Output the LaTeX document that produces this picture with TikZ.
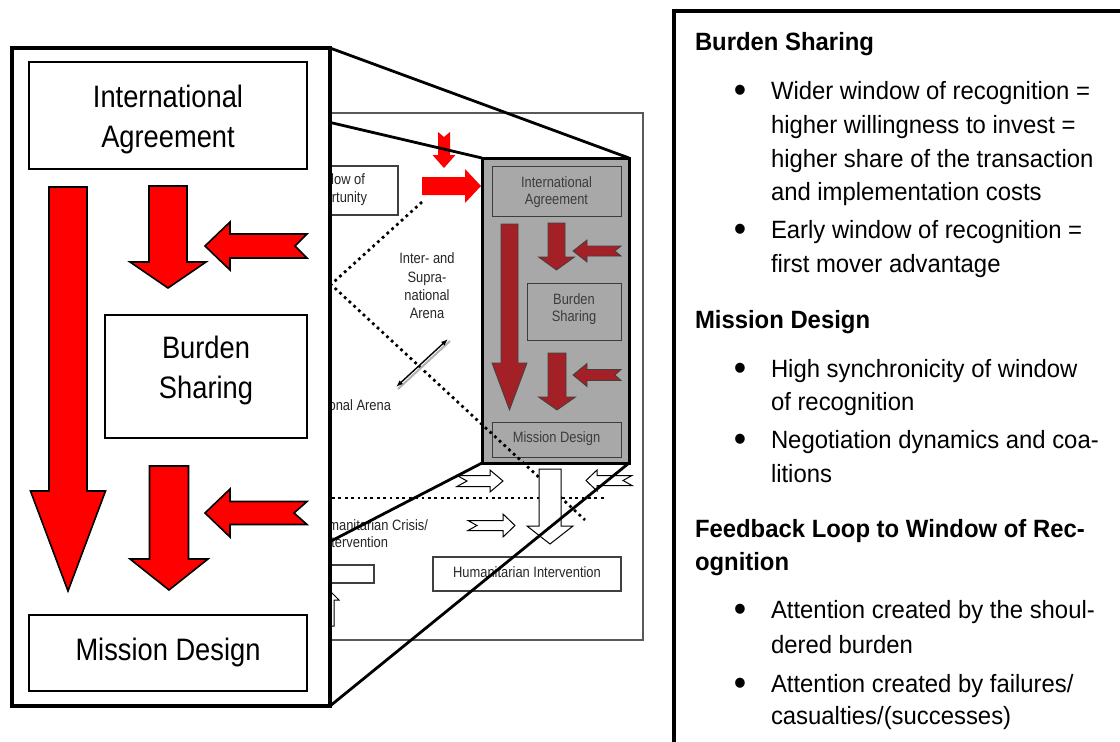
\documentclass[tikz,border=0pt]{standalone}
\usepackage{fontspec}
\setmainfont{Liberation Sans}
\newfontfamily\bigfont[FakeStretch=0.88]{Liberation Sans}
\newfontfamily\midfont[FakeStretch=0.86]{Liberation Sans}
\newfontfamily\sidefont[FakeStretch=0.955]{Liberation Sans}
\usetikzlibrary{arrows.meta}
\definecolor{brick}{RGB}{163,32,38}
\definecolor{boxgray}{RGB}{168,168,168}
\definecolor{txtgray}{RGB}{60,60,60}
\newcommand\DownArr[7]{\path[#1] ({#2-#4},#3) -- ({#2+#4},#3) -- ({#2+#4},#5) -- ({#2+#6},#5) -- (#2,#7) -- ({#2-#6},#5) -- ({#2-#4},#5) -- cycle;}
\newcommand\HorArr[8]{\path[#1] (#2,#3) -- (#4,{#3-#5}) -- (#4,{#3-#6}) -- (#7,{#3-#6}) -- (#8,#3) -- (#7,{#3+#6}) -- (#4,{#3+#6}) -- (#4,{#3+#5}) -- cycle;}
\begin{document}
\begin{tikzpicture}[x=1pt,y=-1pt,inner sep=0pt,outer sep=0pt,
  lbox/.style={draw,line width=1.8pt,fill=white},
  bigtxt/.style={font=\bigfont\fontsize{31}{40}\selectfont,anchor=base},
  midtxt/.style={font=\midfont\fontsize{15}{18}\selectfont,text=black!85},
  graytxt/.style={font=\midfont\fontsize{15}{18}\selectfont,text=txtgray,anchor=base},
  mbox/.style={draw=black!75,line width=1.1pt,fill=white},
  gbox/.style={draw=txtgray,line width=1pt},
  redarr/.style={fill=red,draw=black,line width=1.6pt},
  brickarr/.style={fill=brick,draw=black!75,line width=0.8pt},
  toparr/.style={fill=red},
  whitearr/.style={fill=white,draw=black,line width=1pt},
  dotline/.style={line width=2.7pt,dash pattern=on 2.7pt off 3.7pt},
  persp/.style={line width=2.8pt},
  rtext/.style={font=\sidefont\fontsize{25}{34}\selectfont,anchor=base west},
  rhead/.style={font=\sidefont\bfseries\fontsize{25}{34}\selectfont,anchor=base west},
  rbul/.style={font=\sidefont\fontsize{37}{40}\selectfont,anchor=base,yshift=-3.5pt}]
\useasboundingbox (0,0) rectangle (1120,742);
\fill[white] (0,0) rectangle (1120,742);

% middle picture frame
\node[draw=black!65,line width=1.2pt,minimum width=393,minimum height=527] (frame) at (446.5,376.5) {};
\node[mbox,minimum width=128,minimum height=49] (wo) at (334,190.5) {};
\node[midtxt,anchor=base east] (wot1) at (365,184) {Window of};
\node[midtxt,anchor=base east] (wot2) at (367,202) {Opportunity};
\node[mbox,minimum width=74,minimum height=18] (sb) at (337,574) {};
\node[mbox,minimum width=188,minimum height=34] (hi) at (527,574) {};
\node[midtxt,anchor=base] (hit) at (527,577) {Humanitarian Intervention};
\node[midtxt,anchor=base] (isa1) at (427,263) {Inter- and};
\node[midtxt,anchor=base] (isa2) at (427,282) {Supra-};
\node[midtxt,anchor=base] (isa3) at (427,300) {national};
\node[midtxt,anchor=base] (isa4) at (427,318) {Arena};
\node[midtxt,anchor=base east] (na) at (391,410) {National Arena};
\node[midtxt,anchor=base east] (hc1) at (428,530) {Humanitarian Crisis/};
\node[midtxt,anchor=base east] (hc2) at (388,547) {Intervention};

% gray box
\node[draw,line width=3pt,fill=boxgray,minimum width=147,minimum height=305] (gb) at (555.5,310.5) {};
\node[gbox,minimum width=129,minimum height=50] (gia) at (556.5,191) {};
\node[graytxt] (giat1) at (556.5,187) {International};
\node[graytxt] (giat2) at (556.5,204) {Agreement};
\node[gbox,minimum width=94,minimum height=57] (gbs) at (574,311.5) {};
\node[graytxt] (gbst1) at (574,304) {Burden};
\node[graytxt] (gbst2) at (574,321) {Sharing};
\node[gbox,minimum width=129,minimum height=35] (gmd) at (556.5,439.5) {};
\node[graytxt] (gmdt) at (556.5,442) {Mission Design};
\DownArr{brickarr}{509.5}{224}{8.5}{363}{17.5}{410}
\DownArr{brickarr}{556.5}{223}{8.5}{257}{18}{270}
\HorArr{brickarr}{573}{251}{587}{11}{5}{621}{615}
\DownArr{brickarr}{557}{353}{9}{397}{18.5}{410}
\HorArr{brickarr}{573}{375}{587}{11.5}{5.5}{621}{615}

% dotted lines
\coordinate (d1) at (422,202);
\coordinate (dv) at (331,284.5);
\coordinate (d2) at (585,520);
\draw[dotline] (d1) -- (dv) -- (d2);
\coordinate (h1) at (300,498);
\coordinate (h2) at (606,498);
\draw[dotline] (h1) -- (h2);

% white arrows
\HorArr{whitearr}{503}{481}{490}{11}{5.5}{457}{467}
\HorArr{whitearr}{586}{480.5}{597}{10.5}{5}{632}{623}
\HorArr{whitearr}{515}{525.5}{503}{11.5}{5}{468}{477}
\DownArr{whitearr}{550}{469}{11}{526}{23}{544}
\DownArr{whitearr}{330}{626}{4}{600}{9}{591}

% top red arrows
\path[toparr] (438,132) -- (444,137) -- (450,132) -- (450,155) -- (455.5,155) -- (444,168) -- (432.5,155) -- (438,155) -- cycle;
\HorArr{toparr}{481}{186}{465}{17}{9}{422}{422}

% double arrow
\coordinate (da1) at (396,387);
\coordinate (da2) at (448,339);
\draw[black!30,line width=2pt] ([shift={(2,2)}]da1) -- ([shift={(2,2)}]da2);
\draw[line width=1.4pt,{Latex[length=7pt,width=5pt]}-{Latex[length=7pt,width=5pt]}] (da1) -- (da2);

% perspective lines
\coordinate (bTL) at (12,48);
\coordinate (bTR) at (330,48);
\coordinate (bBL) at (12,706);
\coordinate (bBR) at (330,706);
\draw[persp] (bTL) -- (gb.north west);
\draw[persp] (bTR) -- (gb.north east);
\draw[persp] (bBL) -- (gb.south west);
\draw[persp] (bBR) -- (gb.south east);

% big left box
\node[draw,line width=4pt,fill=white,minimum width=318,minimum height=658] (big) at (171,377) {};
\node[lbox,minimum width=278,minimum height=107] (ia) at (168,115.5) {};
\node[bigtxt] (iat1) at (168,107) {International};
\node[bigtxt] (iat2) at (168,147) {Agreement};
\node[lbox,minimum width=202,minimum height=123] (bs) at (206,376.5) {};
\node[bigtxt] (bst1) at (206,358) {Burden};
\node[bigtxt] (bst2) at (206,398) {Sharing};
\node[lbox,minimum width=278,minimum height=76] (md) at (168,653) {};
\node[bigtxt] (mdt) at (168,660) {Mission Design};
\DownArr{redarr}{68}{187}{19}{491}{37.5}{591}
\DownArr{redarr}{168}{186}{19}{262}{38}{288}
\HorArr{redarr}{205}{246}{230}{24}{12}{307}{295}
\DownArr{redarr}{169}{466}{19.5}{559}{39}{590}
\HorArr{redarr}{205}{513}{230}{24}{11.5}{307}{294}

% right text box
\node[draw,line width=4pt,minimum width=500,minimum height=800,anchor=north west] (rbox) at (674,11) {};
\node[rhead] (h1t) at (695,50) {Burden Sharing};
\node[rbul] (b1) at (740,99) {\textbullet};
\node[rtext] (t1a) at (771,99) {Wider window of recognition =};
\node[rtext] (t1b) at (771,133) {higher willingness to invest =};
\node[rtext] (t1c) at (771,167) {higher share of the transaction};
\node[rtext] (t1d) at (771,200) {and implementation costs};
\node[rbul] (b2) at (740,238) {\textbullet};
\node[rtext] (t2a) at (771,238) {Early window of recognition =};
\node[rtext] (t2b) at (771,272) {first mover advantage};
\node[rhead] (h2t) at (695,328) {Mission Design};
\node[rbul] (b3) at (740,377) {\textbullet};
\node[rtext] (t3a) at (771,377) {High synchronicity of window};
\node[rtext] (t3b) at (771,410) {of recognition};
\node[rbul] (b4) at (740,448) {\textbullet};
\node[rtext] (t4a) at (771,448) {Negotiation dynamics and coa-};
\node[rtext] (t4b) at (771,482) {litions};
\node[rhead] (h3t) at (695,537) {Feedback Loop to Window of Rec-};
\node[rhead] (h3u) at (695,570) {ognition};
\node[rbul] (b5) at (740,618) {\textbullet};
\node[rtext] (t5a) at (771,618) {Attention created by the shoul-};
\node[rtext] (t5b) at (771,653) {dered burden};
\node[rbul] (b6) at (740,692) {\textbullet};
\node[rtext] (t6a) at (771,692) {Attention created by failures/};
\node[rtext] (t6b) at (771,724) {casualties/(successes)};
\end{tikzpicture}
\end{document}
